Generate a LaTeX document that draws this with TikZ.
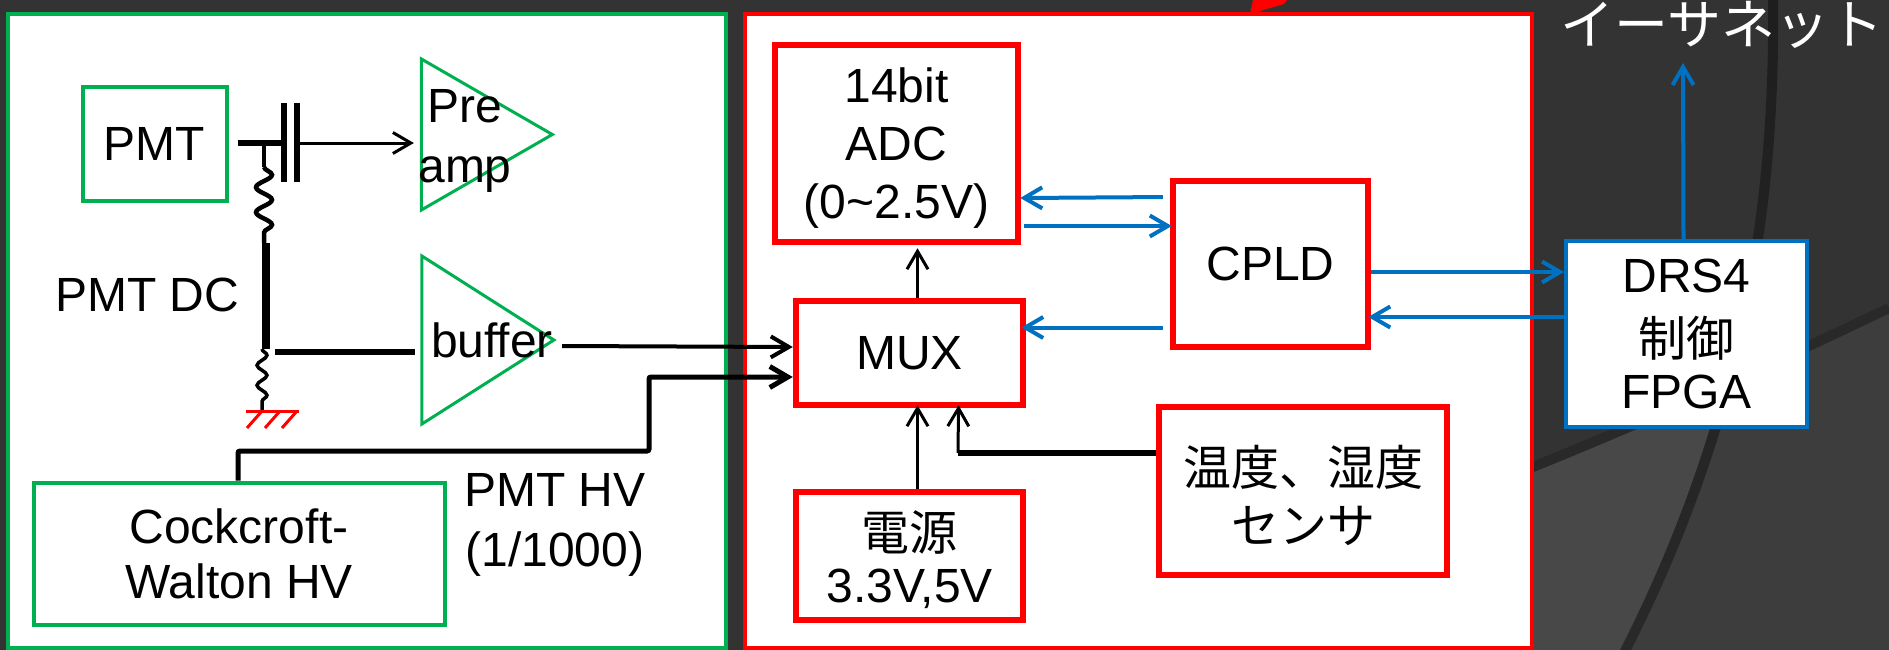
\documentclass[tikz,border=0pt]{standalone}
\usepackage{fontspec}
\setmainfont{Liberation Sans}
\newfontfamily\jpfont{Noto Sans CJK JP}
\newcommand{\jp}[1]{\smash{\raisebox{-6pt}{\jpfont #1}}\rule{0pt}{34pt}}
\usetikzlibrary{arrows.meta,shapes.geometric,decorations.pathmorphing}
\definecolor{slidebg}{HTML}{333333}
\definecolor{slidemid}{HTML}{484848}
\definecolor{slideright}{HTML}{3D3D3D}
\definecolor{slideband}{HTML}{292929}
\definecolor{slideline}{HTML}{1E1E1E}
\definecolor{boxgreen}{HTML}{00B050}
\definecolor{boxblue}{HTML}{0070C0}
\begin{document}
\begin{tikzpicture}[x=1pt,y=-1pt,>={Straight Barb[length=18pt,width=21pt]}]
    \tikzstyle{every node}=[font=\fontsize{48}{58}\selectfont,inner sep=0pt,align=center]
    \tikzstyle{panel}=[draw,fill=white,line width=4pt]
    \tikzstyle{greenbox}=[draw=boxgreen,fill=white,line width=4pt]
    \tikzstyle{redbox}=[draw=red,fill=white,line width=6.5pt]
    \tikzstyle{bluebox}=[draw=boxblue,fill=white,line width=4pt]
    \tikzstyle{amp}=[isosceles triangle,isosceles triangle stretches,draw=boxgreen,line width=3pt]
    \tikzstyle{bluearrow}=[->,draw=boxblue,line width=4pt]
    \tikzstyle{wire}=[line width=3pt]
    \tikzstyle{thickwire}=[line width=6pt]
    \tikzstyle{resistor}=[line width=4.5pt,decorate]
    \tikzstyle{gnd}=[draw=red,line width=3pt]

    % Slide background
    \useasboundingbox (0,0) rectangle (1889,650);
    \fill[slidebg] (0,0) rectangle (1889,650);
    \begin{scope}
      \clip (1500,480) .. controls (1640,425) and (1770,365) .. (1889,308) -- (1889,650) -- (1500,650) -- cycle;
      \fill[slidemid] (1500,0) rectangle (1889,650);
      \fill[slideright] (1773,0) .. controls (1775,180) and (1752,400) .. (1625,650) -- (1889,650) -- (1889,0) -- cycle;
    \end{scope}
    \draw[slideband,line width=10pt] (1500,480) .. controls (1640,425) and (1770,365) .. (1889,308);
    \shade[top color=slideline,bottom color=slideband] (1768,0) .. controls (1770,180) and (1747,400) .. (1620,650) -- (1631,650) .. controls (1758,400) and (1780,180) .. (1778,0) -- cycle;
    \fill[red] (1250,14) -- (1253,0) -- (1287,0) -- (1284,4) -- cycle;

    % Draw the two panels
    \node[panel,draw=boxgreen,minimum width=718pt,minimum height=634pt] (hvpanel) at (367,331) {};
    \node[panel,draw=red,minimum width=787pt,minimum height=634pt] (readout) at (1138.5,331) {};

    % Draw the left panel nodes
    \node[greenbox,minimum width=144pt,minimum height=113pt] (pmt) at (154.5,144) {PMT};
    \node[amp,minimum height=131pt,minimum width=151pt] (preamp) at (465,134.5) {};
    \node[amp,minimum height=132pt,minimum width=168pt] (buffer) at (468,340) {};
    \node (preamplabel) at (465,141) {Pre\\[2pt]amp};
    \node (bufferlabel) at (492,340) {buffer};
    \node (dclabel) at (147,295) {PMT DC};
    \node[greenbox,minimum width=411pt,minimum height=142pt] (cwhv) at (239,553.5) {Cockcroft-\\[-3pt]Walton HV};
    \node[anchor=west] (hvlabel) at (464,525) {PMT HV\\[2pt](1/1000)};

    % Draw the right panel nodes
    \node[redbox,minimum width=243pt,minimum height=197pt] (adc) at (896.5,143.5) {14bit\\ADC\\\smash{(0\textasciitilde2.5V)}};
    \node[redbox,minimum width=195pt,minimum height=166pt] (cpld) at (1270.5,264) {CPLD};
    \node[redbox,minimum width=227pt,minimum height=104pt] (mux) at (909.5,353) {MUX};
    \node[redbox,minimum width=288pt,minimum height=168pt] (sensor) at (1303,491) {\jp{温度、湿度}\\\jp{センサ}};
    \node[redbox,minimum width=227pt,minimum height=128pt] (power) at (909.5,556) {\jp{電源}\\\smash{3.3V,5V}};
    \node[bluebox,minimum width=241pt,minimum height=186pt] (drs) at (1686.5,334) {DRS4\\\jp{制御}\\FPGA};
    \node[text=white,font=\fontsize{54}{60}\selectfont\jpfont] (ether) at (1722,25) {イーサネット};

    % Named points on the wires
    \coordinate (capin) at (281,143);
    \coordinate (capout) at (297,143);
    \coordinate (tap) at (264,143);
    \coordinate (upperr) at (264,167);
    \coordinate (dctop) at (266,243);
    \coordinate (dcend) at (266,349);
    \coordinate (lowerr) at (262,349);
    \coordinate (gndpt) at (262,410);
    \coordinate (branch) at (275,352);
    \coordinate (bufout) at (562,346);
    \coordinate (hvup) at (238,451);
    \coordinate (hvstep) at (649,451);
    \coordinate (hvtop) at (649,377);
    \coordinate (sensorbend) at (958,453);
    \coordinate (ethertip) at (1683,63);

    % PMT, capacitor and divider
    \draw[thickwire,shorten <=9pt] (pmt.east |- capin) -- (capin);
    \draw[thickwire] (284,103) -- (284,182);
    \draw[thickwire] (297,103) -- (297,182);
    \draw[wire,->,shorten >=6pt] (capout) -- (capout -| preamp.lower side);
    \draw[line width=4.5pt] (tap) -- (upperr);
    \draw[resistor,decoration={snake,segment length=25pt,amplitude=8pt}] (upperr) -- ([xshift=-2pt]dctop);
    \draw[line width=8pt] (dctop) -- (dcend);
    \draw[resistor,line width=3.5pt,decoration={snake,segment length=20pt,amplitude=5pt}] (lowerr) -- (gndpt);
    \draw[thickwire,shorten >=5pt] (branch) -- (branch -| buffer.lower side);

    % Ground symbol
    \draw[gnd] (246,411) -- (299,411);
    \foreach \x in {262,280,297}
       \draw[gnd] (\x,411) -- (\x-15,428);

    % Connect the left panel with the MUX
    \draw[line width=4pt,->] (bufout) -- ([yshift=6pt]mux.west);
    \draw[line width=5pt,->,rounded corners=2pt] ([xshift=-1pt]cwhv.north) -- (hvup) -- (hvstep) -- (hvtop) -- ([yshift=-24pt]mux.west);

    % Connect the MUX with the other red boxes
    \draw[wire,->,shorten >=3pt] ([xshift=8pt]mux.north) -- ([xshift=21pt]adc.south);
    \draw[wire,->,shorten >=-3pt] ([xshift=8pt]power.north) -- ([xshift=8pt]mux.south);
    \draw[thickwire] ([yshift=38pt]sensor.west) -- (sensorbend);
    \draw[wire,->,shorten >=-3pt] (sensorbend) -- ([xshift=49pt]mux.south);

    % Blue data lines
    \draw[bluearrow,shorten <=7pt,shorten >=-1pt] ([yshift=67pt]cpld.west) -- ([yshift=-54.5pt]adc.east);
    \draw[bluearrow,shorten <=3pt,shorten >=-2pt] ([yshift=-82.5pt]adc.east) -- ([yshift=38pt]cpld.west);
    \draw[bluearrow,shorten <=7pt,shorten >=-5pt] ([yshift=-63.5pt]cpld.west) -- ([yshift=25.5pt]mux.east);
    \draw[bluearrow] ([yshift=-8pt]cpld.east) -- ([yshift=62pt]drs.west);
    \draw[bluearrow,shorten >=-3pt] ([yshift=17pt]drs.west) -- ([yshift=-53pt]cpld.east);
    \draw[bluearrow] ([xshift=-3pt]drs.north) -- (ethertip);
\end{tikzpicture}
\end{document}
